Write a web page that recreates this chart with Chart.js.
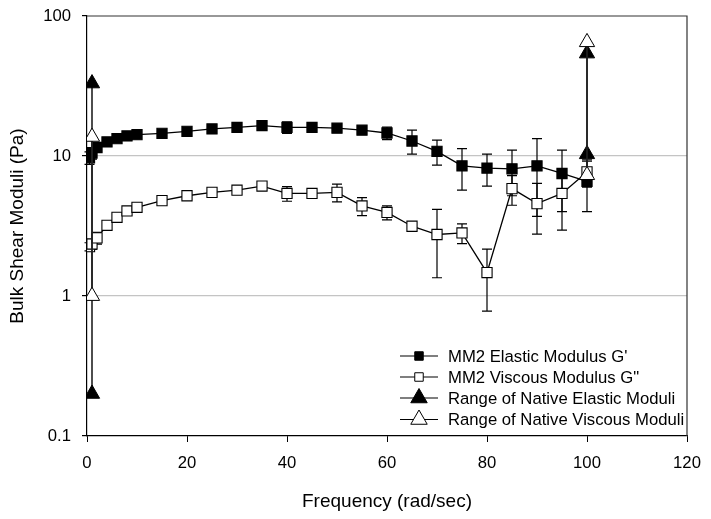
<!DOCTYPE html>
<html>
<head>
<meta charset="utf-8">
<script src="https://cdn.jsdelivr.net/npm/chart.js@4.4.0/dist/chart.umd.min.js"></script>
<style>
  html, body { margin: 0; padding: 0; background: #fff; }
  #wrap { width: 711px; height: 519px; }
</style>
</head>
<body>
<div id="wrap"><canvas id="chart" width="711" height="519"></canvas></div>
<script>
// Datos
const freq = [0.5, 1, 2, 4, 6, 8, 10, 15, 20, 25, 30, 35, 40, 45, 50, 55, 60, 65, 70, 75, 80, 85, 90, 95, 100];
const elastic = [9.7, 10.5, 11.5, 12.6, 13.3, 13.9, 14.2, 14.5, 15.0, 15.6, 16.0, 16.5, 16.0, 16.0, 15.8, 15.3, 14.6, 12.8, 10.8, 8.5, 8.2, 8.1, 8.5, 7.5, 6.6];
const elasticErr = [1.0, 1.0, 0.9, 0.8, 0.7, 0.6, 0.6, 0.5, 0.5, 0.5, 0.5, 0.6, 1.5, 0.6, 0.9, 0.9, 1.5, 2.5, 2.2, 2.8, 2.1, 2.9, 4.8, 3.5, 2.6];
const viscous = [2.25, 2.35, 2.6, 3.2, 3.65, 4.05, 4.3, 4.8, 5.2, 5.5, 5.7, 6.1, 5.4, 5.4, 5.5, 4.4, 3.95, 3.15, 2.75, 2.82, 1.47, 5.85, 4.57, 5.4, 7.7];
const viscousErr = [0.15, 0.2, 0.25, 0.2, 0.15, 0.15, 0.15, 0.15, 0.15, 0.15, 0.15, 0.2, 0.65, 0.15, 0.8, 0.65, 0.45, 0.2, 1.4, 0.45, 0.69, 1.4, 1.8, 2.45, 1.7];

const nativeFreq = [1, 100];
const nativeElasticMin = [0.2, 10.3];
const nativeElasticMax = [33, 54];
const nativeViscousMin = [1.0, 7.3];
const nativeViscousMax = [13.7, 65];

const xTicks = [0, 20, 40, 60, 80, 100, 120];
const yTicks = [0.1, 1, 10, 100];
const yTickLabels = ['0.1', '1', '10', '100'];

const labels = ["MM2 Elastic Modulus G'", 'MM2 Viscous Modulus G"', 'Range of Native Elastic Moduli', 'Range of Native Viscous Moduli'];

const FONT = 'Liberation Sans, Arial, sans-serif';

// Arma los puntos de los rangos con un corte entre ellos
function rangePoints(min, max) {
    const pts = [];
    nativeFreq.forEach((f, i) => {
        pts.push({x: f, y: min[i]});
        pts.push({x: f, y: max[i]});
        pts.push({x: f, y: null});
    });
    return pts;
}

function seriesPoints(vals) {
    return freq.map((f, i) => ({x: f, y: vals[i]}));
}

// Barras de error
const errorBars = {
    id: 'errorBars',
    beforeDatasetsDraw(chart) {
        const {ctx, scales: {x, y}} = chart;
        ctx.save();
        ctx.strokeStyle = '#000';
        ctx.lineWidth = 1.2;
        chart.data.datasets.forEach(ds => {
            if (!ds.errors) return;
            ds.data.forEach((p, j) => {
                const e = ds.errors[j];
                const px = x.getPixelForValue(p.x);
                const top = y.getPixelForValue(p.y + e);
                const bot = y.getPixelForValue(Math.max(p.y - e, 0.1));
                ctx.beginPath();
                ctx.moveTo(px, top); ctx.lineTo(px, bot);
                ctx.moveTo(px - 5, top); ctx.lineTo(px + 5, top);
                ctx.moveTo(px - 5, bot); ctx.lineTo(px + 5, bot);
                ctx.stroke();
            });
        });
        ctx.restore();
    }
};

// Marco superior y derecho
const frame = {
    id: 'frame',
    beforeDatasetsDraw(chart) {
        const {ctx, chartArea: a} = chart;
        ctx.save();
        ctx.strokeStyle = '#333';
        ctx.lineWidth = 1.2;
        ctx.beginPath();
        ctx.moveTo(a.left, a.top);
        ctx.lineTo(a.right, a.top);
        ctx.lineTo(a.right, a.bottom);
        ctx.stroke();
        ctx.restore();
    }
};

// Leyenda dentro del area
const innerLegend = {
    id: 'innerLegend',
    afterDraw(chart) {
        const {ctx, chartArea: a} = chart;
        const x0 = a.left + 313;
        const rows = [a.bottom - 80, a.bottom - 59, a.bottom - 38, a.bottom - 16.5];
        ctx.save();
        ctx.font = '16.7px ' + FONT;
        ctx.textBaseline = 'middle';
        ctx.textAlign = 'left';
        labels.forEach((label, i) => {
            const ds = chart.data.datasets.find(d => d.label === label);
            const yy = rows[i];
            ctx.strokeStyle = '#000';
            ctx.lineWidth = 1.2;
            ctx.beginPath();
            ctx.moveTo(x0, yy);
            ctx.lineTo(x0 + 38, yy);
            ctx.stroke();
            ctx.fillStyle = ds.pointBackgroundColor;
            ctx.lineWidth = 1;
            const r = ds.pointStyle === 'rect' ? 6 : 9.5;
            Chart.helpers.drawPoint(ctx, {pointStyle: ds.pointStyle, radius: r, rotation: 0, borderWidth: 1}, x0 + 19, yy);
            ctx.fillStyle = '#000';
            ctx.fillText(label, x0 + 48, yy + 1);
        });
        ctx.restore();
    }
};

new Chart(document.getElementById('chart'), {
    type: 'scatter',
    data: {
        datasets: [
            {
                label: labels[3],
                data: rangePoints(nativeViscousMin, nativeViscousMax),
                showLine: true, spanGaps: false,
                borderColor: '#222', borderWidth: 1.6,
                pointStyle: 'triangle', pointRadius: 8.8,
                pointBackgroundColor: '#fff', pointBorderColor: '#000', pointBorderWidth: 1,
                order: 0
            },
            {
                label: labels[2],
                data: rangePoints(nativeElasticMin, nativeElasticMax),
                showLine: true, spanGaps: false,
                borderColor: '#222', borderWidth: 1.6,
                pointStyle: 'triangle', pointRadius: 8.8,
                pointBackgroundColor: '#000', pointBorderColor: '#000', pointBorderWidth: 1,
                order: 1
            },
            {
                label: labels[1],
                data: seriesPoints(viscous),
                errors: viscousErr,
                showLine: true,
                borderColor: '#000', borderWidth: 1.3,
                pointStyle: 'rect', pointRadius: 7.2,
                pointBackgroundColor: '#fff', pointBorderColor: '#000', pointBorderWidth: 1.1,
                order: 2
            },
            {
                label: labels[0],
                data: seriesPoints(elastic),
                errors: elasticErr,
                showLine: true,
                borderColor: '#000', borderWidth: 1.3,
                pointStyle: 'rect', pointRadius: 7.2,
                pointBackgroundColor: '#000', pointBorderColor: '#000', pointBorderWidth: 1.1,
                order: 3
            }
        ]
    },
    options: {
        responsive: false,
        animation: false,
        layout: { padding: { top: 16, right: 24, left: 0, bottom: 0 } },
        plugins: {
            legend: { display: false },
            tooltip: { enabled: false }
        },
        scales: {
            x: {
                type: 'linear',
                min: 0, max: 120,
                afterBuildTicks: s => { s.ticks = xTicks.map(v => ({value: v})); },
                afterFit: s => { s.height = 83; s.paddingLeft = 0; s.paddingRight = 0; },
                grid: { drawOnChartArea: false, drawTicks: true, tickLength: 6, color: '#000' },
                border: { display: true, color: '#000', width: 1.2 },
                ticks: { color: '#000', font: { family: FONT, size: 16.7 }, padding: 11, maxRotation: 0 },
                title: { display: true, text: 'Frequency (rad/sec)', color: '#000', font: { family: FONT, size: 19 }, padding: { top: 0, bottom: 6 } }
            },
            y: {
                type: 'logarithmic',
                min: 0.1, max: 100,
                afterBuildTicks: s => { s.ticks = yTicks.map(v => ({value: v})); },
                afterFit: s => { s.width = 87; s.paddingTop = 0; s.paddingBottom = 0; },
                grid: {
                    drawOnChartArea: true, drawTicks: true, tickLength: 5,
                    color: c => (c.tick && (c.tick.value === 1 || c.tick.value === 10)) ? '#c4c4c4' : 'rgba(0,0,0,0)',
                    tickColor: '#000', lineWidth: 1.2
                },
                border: { display: true, color: '#000', width: 1.2 },
                ticks: {
                    color: '#000', font: { family: FONT, size: 16.7 }, padding: 11,
                    callback: v => yTickLabels[yTicks.indexOf(v)]
                },
                title: { display: true, text: 'Bulk Shear Moduli (Pa)', color: '#000', font: { family: FONT, size: 19 }, padding: { top: 6, bottom: 0 } }
            }
        }
    },
    plugins: [errorBars, frame, innerLegend]
});
</script>
</body>
</html>
